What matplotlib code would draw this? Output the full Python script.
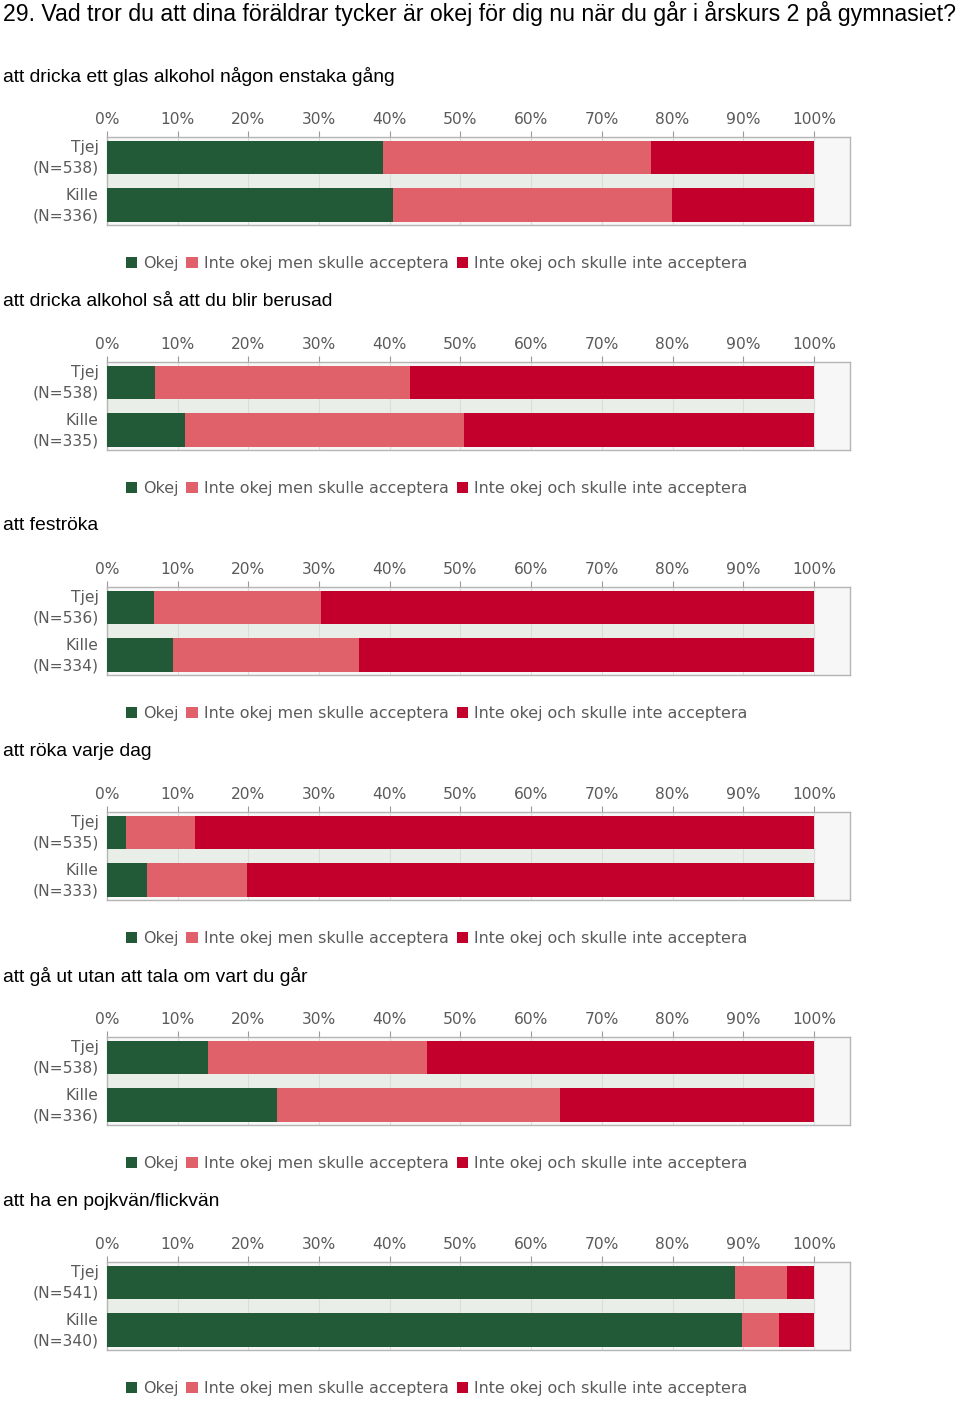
import matplotlib.pyplot as plt
from matplotlib.patches import Patch
from matplotlib.transforms import ScaledTranslation

titel = "29. Vad tror du att dina föräldrar tycker är okej för dig nu när du går i årskurs 2 på gymnasiet?"
fragor = [
    "att dricka ett glas alkohol någon enstaka gång",
    "att dricka alkohol så att du blir berusad",
    "att feströka",
    "att röka varje dag",
    "att gå ut utan att tala om vart du går",
    "att ha en pojkvän/flickvän",
]
grupper = ["Tjej", "Kille"]
antal = [
    [538, 336],
    [538, 335],
    [536, 334],
    [535, 333],
    [538, 336],
    [541, 340],
]
svar = ["Okej", "Inte okej men skulle acceptera", "Inte okej och skulle inte acceptera"]
# andel i procent per fråga: [tjej, kille]
okej = [[39.0, 40.4], [6.8, 11.0], [6.6, 9.3], [2.7, 5.7], [14.3, 24.0], [88.9, 89.8]]
accepterar = [[38.0, 39.5], [36.1, 39.5], [23.7, 26.3], [9.8, 14.1], [31.0, 40.1], [7.3, 5.3]]
inte_ok = [[23.0, 20.1], [57.1, 49.5], [69.7, 64.4], [87.5, 80.2], [54.7, 35.9], [3.8, 4.9]]

farger = ["#225a37", "#e1616a", "#c3002c"]
tick_farg = "#5a5a5a"

W, H = 960, 1401
fig = plt.figure(figsize=(W / 100, H / 100), dpi=100)
fig.patch.set_facecolor("white")

fig.text(3 / W, 1 - 13 / H, titel, fontsize=16.65, family="Liberation Sans",
         va="center", ha="left", color="black")

for k in range(6):
    off = 225 * k
    fig.text(3 / W, 1 - (76 + off) / H, fragor[k], fontsize=13.9,
             family="Liberation Sans", va="center", ha="left", color="black")

    ax = fig.add_axes([107 / W, 1 - (225 + off) / H, 743 / W, 88 / H])
    ax.set_facecolor("#f6f7f6")
    y = [0, 1]
    left = [0, 0]
    delar = [okej[k], accepterar[k], inte_ok[k]]
    for i, d in enumerate(delar):
        ax.barh(y, d, left=left, height=0.7, color=farger[i], label=svar[i], zorder=3)
        left = [left[j] + d[j] for j in range(2)]

    ax.axhspan(0.35, 0.65, xmax=100 / 105.1, color="#e9eee9", zorder=1)
    ax.set_xlim(0, 105.1)
    ax.set_ylim(1.42, -0.43)
    ax.set_xticks(range(0, 101, 10))
    ax.set_xticklabels([f"{t}%" for t in range(0, 101, 10)])
    ax.xaxis.tick_top()
    ax.tick_params(axis="x", colors="#999999", labelcolor=tick_farg, labelsize=11.2,
                   length=4, direction="out", pad=3)
    ax.set_yticks(y)
    ax.set_yticklabels([f"{g}\n(N={n})" for g, n in zip(grupper, antal[k])],
                       linespacing=1.45)
    ax.tick_params(axis="y", length=0, labelcolor=tick_farg, labelsize=11.2, pad=6)
    for lab in ax.get_yticklabels():
        lab.set_transform(lab.get_transform() + ScaledTranslation(0, 0.035, fig.dpi_scale_trans))
    ax.grid(axis="x", color="#dcdcdc", linewidth=0.8, zorder=0)
    for s in ax.spines.values():
        s.set_color("#b5b5b5")
        s.set_linewidth(1)

    handles = [Patch(facecolor=farger[i], label=svar[i]) for i in range(3)]
    ax.legend(handles=handles, loc="center", bbox_to_anchor=(0.4435, -0.443),
              ncol=3, frameon=False, fontsize=11.4, handlelength=0.7,
              handleheight=0.7, handletextpad=0.4, columnspacing=0.5,
              labelcolor=tick_farg)

fig.savefig("out.png", dpi=100)
